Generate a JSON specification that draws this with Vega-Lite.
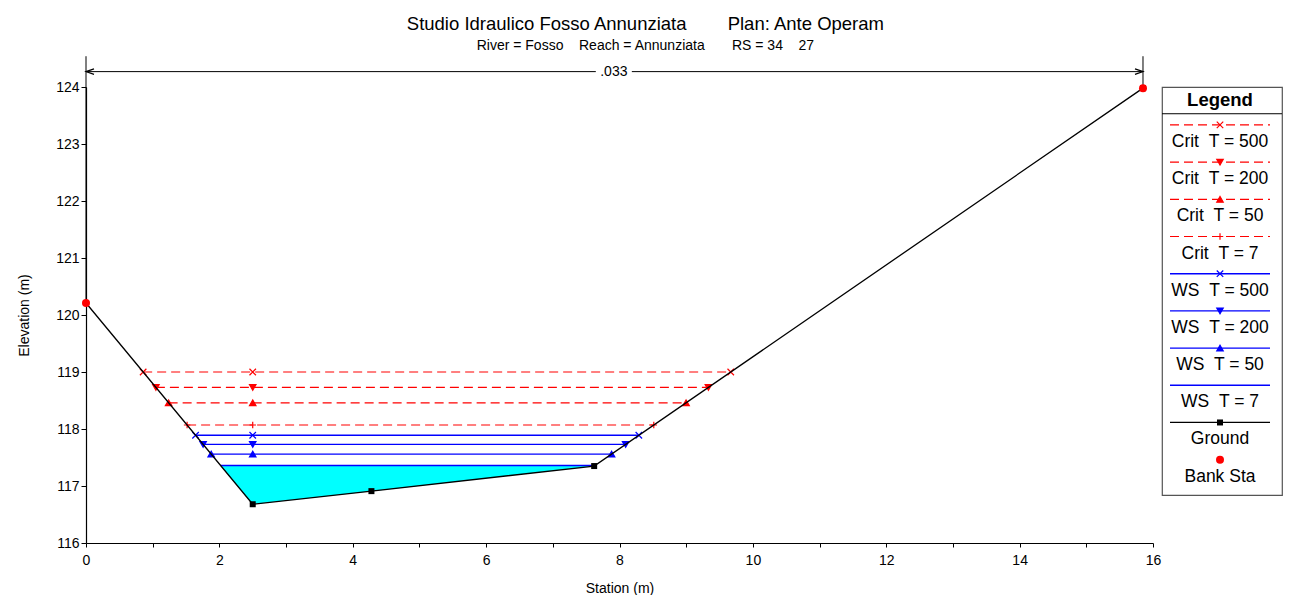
{
  "$schema": "https://vega.github.io/schema/vega-lite/v6.json",
  "background": "white",
  "padding": {"left": 17, "top": 15, "right": 7, "bottom": 0},
  "title": {
    "text": "Studio Idraulico Fosso Annunziata\u00a0\u00a0\u00a0\u00a0\u00a0\u00a0\u00a0\u00a0Plan: Ante Operam",
    "subtitle": "River = Fosso\u00a0\u00a0\u00a0\u00a0Reach = Annunziata\u00a0\u00a0\u00a0\u00a0\u00a0\u00a0\u00a0RS = 34\u00a0\u00a0\u00a0\u00a027",
    "anchor": "middle",
    "dx": -5,
    "fontSize": 18.5,
    "fontWeight": "normal",
    "subtitleFontSize": 14,
    "color": "black",
    "subtitleColor": "black",
    "subtitlePadding": 5,
    "offset": 3
  },
  "datasets": {
    "ground": [
      {"station": 0, "elev": 120.21},
      {"station": 2.5, "elev": 116.68},
      {"station": 4.28, "elev": 116.91},
      {"station": 7.62, "elev": 117.35},
      {"station": 15.85, "elev": 123.98}
    ],
    "bank": [
      {"station": 0, "elev": 120.21},
      {"station": 15.85, "elev": 123.98}
    ],
    "water": [
      {"station": 2.018, "elev": 117.36},
      {"station": 2.5, "elev": 116.68},
      {"station": 4.28, "elev": 116.91},
      {"station": 7.62, "elev": 117.35},
      {"station": 7.632, "elev": 117.36}
    ],
    "profiles": [
      {"profile": "Crit T = 500", "type": "Crit", "station": 0.857, "elev": 119.0},
      {"profile": "Crit T = 500", "type": "Crit", "station": 2.5, "elev": 119.0},
      {"profile": "Crit T = 500", "type": "Crit", "station": 9.668, "elev": 119.0},
      {"profile": "Crit T = 200", "type": "Crit", "station": 1.048, "elev": 118.73},
      {"profile": "Crit T = 200", "type": "Crit", "station": 2.5, "elev": 118.73},
      {"profile": "Crit T = 200", "type": "Crit", "station": 9.333, "elev": 118.73},
      {"profile": "Crit T = 50", "type": "Crit", "station": 1.239, "elev": 118.46},
      {"profile": "Crit T = 50", "type": "Crit", "station": 2.5, "elev": 118.46},
      {"profile": "Crit T = 50", "type": "Crit", "station": 8.998, "elev": 118.46},
      {"profile": "Crit T = 7", "type": "Crit", "station": 1.516, "elev": 118.07},
      {"profile": "Crit T = 7", "type": "Crit", "station": 2.5, "elev": 118.07},
      {"profile": "Crit T = 7", "type": "Crit", "station": 8.514, "elev": 118.07},
      {"profile": "WS T = 500", "type": "WS", "station": 1.643, "elev": 117.89},
      {"profile": "WS T = 500", "type": "WS", "station": 2.5, "elev": 117.89},
      {"profile": "WS T = 500", "type": "WS", "station": 8.29, "elev": 117.89},
      {"profile": "WS T = 200", "type": "WS", "station": 1.756, "elev": 117.73},
      {"profile": "WS T = 200", "type": "WS", "station": 2.5, "elev": 117.73},
      {"profile": "WS T = 200", "type": "WS", "station": 8.092, "elev": 117.73},
      {"profile": "WS T = 50", "type": "WS", "station": 1.877, "elev": 117.56},
      {"profile": "WS T = 50", "type": "WS", "station": 2.5, "elev": 117.56},
      {"profile": "WS T = 50", "type": "WS", "station": 7.881, "elev": 117.56},
      {"profile": "WS T = 7", "type": "WS", "station": 2.018, "elev": 117.36},
      {"profile": "WS T = 7", "type": "WS", "station": 2.5, "elev": 117.36},
      {"profile": "WS T = 7", "type": "WS", "station": 7.632, "elev": 117.36}
    ],
    "nline": [
      {"seg": 1, "station": 0, "elev": 124.27},
      {"seg": 1, "station": 7.645, "elev": 124.27},
      {"seg": 2, "station": 8.185, "elev": 124.27},
      {"seg": 2, "station": 15.85, "elev": 124.27}
    ],
    "arrows": [
      {"dir": "left", "station": 0, "elev": 124.27},
      {"dir": "right", "station": 15.85, "elev": 124.27}
    ],
    "nlabel": [
      {"label": ".033", "station": 7.915, "elev": 124.27}
    ],
    "legend": [
      {"order": -1, "profile": "Legend", "label": "Legend", "type": "Header"},
      {"order": 0, "profile": "Crit T = 500", "label": "Crit\u00a0\u00a0T = 500", "type": "Crit"},
      {"order": 1, "profile": "Crit T = 200", "label": "Crit\u00a0\u00a0T = 200", "type": "Crit"},
      {"order": 2, "profile": "Crit T = 50", "label": "Crit\u00a0\u00a0T = 50", "type": "Crit"},
      {"order": 3, "profile": "Crit T = 7", "label": "Crit\u00a0\u00a0T = 7", "type": "Crit"},
      {"order": 4, "profile": "WS T = 500", "label": "WS\u00a0\u00a0T = 500", "type": "WS"},
      {"order": 5, "profile": "WS T = 200", "label": "WS\u00a0\u00a0T = 200", "type": "WS"},
      {"order": 6, "profile": "WS T = 50", "label": "WS\u00a0\u00a0T = 50", "type": "WS"},
      {"order": 7, "profile": "WS T = 7", "label": "WS\u00a0\u00a0T = 7", "type": "WS"},
      {"order": 8, "profile": "Ground", "label": "Ground", "type": "Ground"},
      {"order": 9, "profile": "Bank Sta", "label": "Bank Sta", "type": "Bank"}
    ]
  },
  "spacing": 9,
  "bounds": "flush",
  "resolve": {"scale": {"x": "independent", "y": "independent", "shape": "independent"}},
  "hconcat": [
    {
      "width": 1067,
      "height": 456,
      "view": {"stroke": null},
      "resolve": {"scale": {"shape": "independent"}},
      "encoding": {
        "x": {
          "field": "station", "type": "quantitative",
          "scale": {"domain": [0, 16], "nice": false, "zero": false},
          "axis": {
            "title": "Station (m)",
            "format": "d",
            "values": [0, 1, 2, 3, 4, 5, 6, 7, 8, 9, 10, 11, 12, 13, 14, 15, 16],
            "labelExpr": "datum.value % 2 == 0 ? datum.label : ''",
            "tickSize": 4, "labelPadding": 6, "titlePadding": 14, "labelFlush": false
          }
        },
        "y": {
          "field": "elev", "type": "quantitative",
          "scale": {"domain": [116, 124], "nice": false, "zero": false},
          "axis": {
            "title": "Elevation (m)",
            "format": "d",
            "values": [116, 116.5, 117, 117.5, 118, 118.5, 119, 119.5, 120, 120.5, 121, 121.5, 122, 122.5, 123, 123.5, 124],
            "labelExpr": "datum.value % 1 == 0 ? datum.label : ''",
            "tickSize": 5, "labelPadding": 2, "titlePadding": 24, "labelFlush": false
          }
        }
      },
      "layer": [
        {
          "data": {"name": "water"},
          "mark": {"type": "area", "color": "#00ffff", "opacity": 1},
          "encoding": {"y2": {"datum": 117.36}}
        },
        {
          "data": {"name": "bank"},
          "mark": {"type": "rule", "color": "black", "strokeWidth": 1},
          "encoding": {"y2": {"datum": 124.54}}
        },
        {
          "data": {"name": "nline"},
          "mark": {"type": "line", "color": "black", "strokeWidth": 1},
          "encoding": {"detail": {"field": "seg", "type": "nominal"}}
        },
        {
          "data": {"name": "arrows"},
          "mark": {"type": "point", "filled": false, "stroke": "black", "strokeWidth": 1.2, "opacity": 1, "size": 256},
          "encoding": {
            "shape": {"field": "dir", "type": "nominal", "legend": null,
              "scale": {"domain": ["left", "right"], "range": ["M1,-0.35L0,0L1,0.35", "M-1,-0.35L0,0L-1,0.35"]}}
          }
        },
        {
          "data": {"name": "nlabel"},
          "mark": {"type": "text", "fontSize": 14, "color": "black", "baseline": "middle", "align": "center"},
          "encoding": {"text": {"field": "label"}}
        },
        {
          "data": {"name": "profiles"},
          "transform": [{"filter": "datum.type == 'Crit'"}],
          "mark": {"type": "line", "color": "#ff0000", "strokeWidth": 1.2, "strokeDash": [9, 5]},
          "encoding": {"detail": {"field": "profile", "type": "nominal"}}
        },
        {
          "data": {"name": "profiles"},
          "transform": [{"filter": "datum.type == 'WS'"}],
          "mark": {"type": "line", "color": "#0000ff", "strokeWidth": 1.4},
          "encoding": {"detail": {"field": "profile", "type": "nominal"}}
        },
        {
          "data": {"name": "profiles"},
          "transform": [{"filter": "datum.profile != 'WS T = 7'"}],
          "mark": {"type": "point", "filled": true, "opacity": 1, "size": 42, "strokeWidth": 1.2},
          "encoding": {
            "shape": {"field": "profile", "type": "nominal", "legend": null,
              "scale": {
                "domain": ["Crit T = 500", "Crit T = 200", "Crit T = 50", "Crit T = 7", "WS T = 500", "WS T = 200", "WS T = 50"],
                "range": ["M-1,-1L1,1M-1,1L1,-1", "triangle-down", "triangle-up", "M-1,0L1,0M0,-1L0,1", "M-1,-1L1,1M-1,1L1,-1", "triangle-down", "triangle-up"]
              }},
            "fill": {"field": "type", "type": "nominal", "legend": null, "scale": {"domain": ["Crit", "WS"], "range": ["#ff0000", "#0000ff"]}},
            "stroke": {"field": "type", "type": "nominal", "legend": null, "scale": {"domain": ["Crit", "WS"], "range": ["#ff0000", "#0000ff"]}}
          }
        },
        {
          "data": {"name": "ground"},
          "mark": {"type": "line", "color": "black", "strokeWidth": 1.3}
        },
        {
          "data": {"name": "ground"},
          "mark": {"type": "point", "shape": "square", "filled": true, "color": "black", "opacity": 1, "size": 36}
        },
        {
          "data": {"name": "bank"},
          "mark": {"type": "point", "shape": "circle", "filled": true, "color": "#ff0000", "opacity": 1, "size": 64}
        }
      ]
    },
    {
      "width": 120,
      "height": 408,
      "view": {"stroke": "#555555", "strokeWidth": 1.2, "fill": "white"},
      "data": {"name": "legend"},
      "encoding": {
        "x": {"datum": 0.5, "type": "quantitative", "scale": {"domain": [-0.08, 1.12], "nice": false, "zero": false}, "axis": null},
        "y": {"field": "order", "type": "quantitative", "scale": {"domain": [-1.02, 9.95], "reverse": true, "nice": false, "zero": false}, "axis": null}
      },
      "layer": [
        {
          "transform": [{"filter": "datum.type == 'Header'"}],
          "mark": {"type": "text", "fontSize": 18.5, "fontWeight": "bold", "color": "black", "baseline": "middle", "align": "center", "dy": 12},
          "encoding": {"text": {"field": "label"}}
        },
        {
          "transform": [{"filter": "datum.type == 'Header'"}],
          "mark": {"type": "rule", "color": "black", "strokeWidth": 1, "yOffset": 26},
          "encoding": {"x": {"datum": -0.08}, "x2": {"datum": 1.12}}
        },
        {
          "transform": [{"filter": "datum.type == 'Crit'"}],
          "mark": {"type": "rule", "color": "#ff0000", "strokeWidth": 1.2, "strokeDash": [9, 5]},
          "encoding": {"x": {"datum": 0}, "x2": {"datum": 1}}
        },
        {
          "transform": [{"filter": "datum.type == 'WS'"}],
          "mark": {"type": "rule", "color": "#0000ff", "strokeWidth": 1.4},
          "encoding": {"x": {"datum": 0}, "x2": {"datum": 1}}
        },
        {
          "transform": [{"filter": "datum.type == 'Ground'"}],
          "mark": {"type": "rule", "color": "black", "strokeWidth": 1.3},
          "encoding": {"x": {"datum": 0}, "x2": {"datum": 1}}
        },
        {
          "transform": [{"filter": "(datum.type == 'Crit' || datum.type == 'WS') && datum.profile != 'WS T = 7'"}],
          "mark": {"type": "point", "filled": true, "opacity": 1, "size": 42, "strokeWidth": 1.2},
          "encoding": {
            "shape": {"field": "profile", "type": "nominal", "legend": null,
              "scale": {
                "domain": ["Crit T = 500", "Crit T = 200", "Crit T = 50", "Crit T = 7", "WS T = 500", "WS T = 200", "WS T = 50"],
                "range": ["M-1,-1L1,1M-1,1L1,-1", "triangle-down", "triangle-up", "M-1,0L1,0M0,-1L0,1", "M-1,-1L1,1M-1,1L1,-1", "triangle-down", "triangle-up"]
              }},
            "fill": {"field": "type", "type": "nominal", "legend": null, "scale": {"domain": ["Crit", "WS"], "range": ["#ff0000", "#0000ff"]}},
            "stroke": {"field": "type", "type": "nominal", "legend": null, "scale": {"domain": ["Crit", "WS"], "range": ["#ff0000", "#0000ff"]}}
          }
        },
        {
          "transform": [{"filter": "datum.type == 'Ground'"}],
          "mark": {"type": "point", "shape": "square", "filled": true, "color": "black", "opacity": 1, "size": 36}
        },
        {
          "transform": [{"filter": "datum.type == 'Bank'"}],
          "mark": {"type": "point", "shape": "circle", "filled": true, "color": "#ff0000", "opacity": 1, "size": 64}
        },
        {
          "transform": [{"filter": "datum.type != 'Header'"}],
          "mark": {"type": "text", "fontSize": 17.5, "color": "black", "baseline": "middle", "align": "center", "dy": 17},
          "encoding": {"text": {"field": "label"}}
        }
      ]
    }
  ],
  "config": {
    "font": "Liberation Sans",
    "axis": {
      "labelFont": "Liberation Sans", "titleFont": "Liberation Sans",
      "labelFontSize": 14, "titleFontSize": 14, "titleFontWeight": "normal",
      "labelColor": "black", "titleColor": "black",
      "domainColor": "black", "tickColor": "black", "domainWidth": 1.2, "tickWidth": 1,
      "grid": false
    }
  }
}
